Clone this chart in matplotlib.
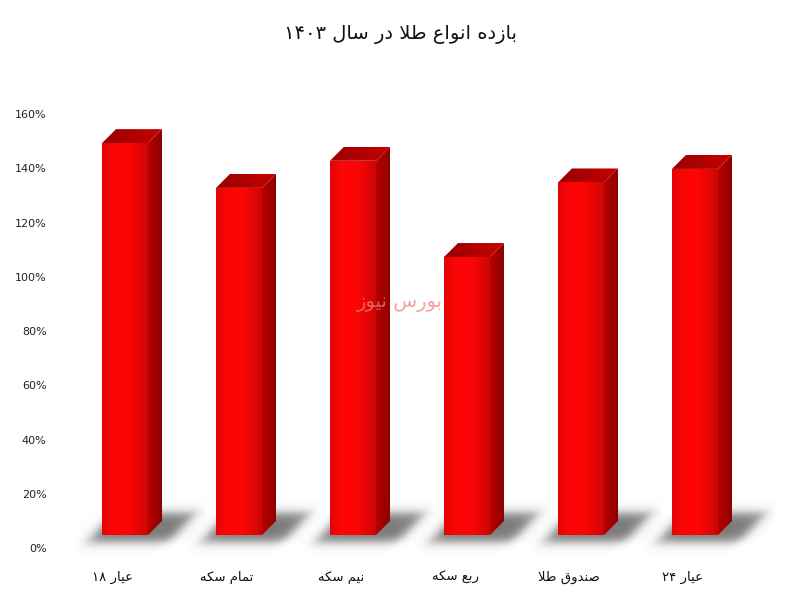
import numpy as np
import matplotlib
matplotlib.use("Agg")
import matplotlib.pyplot as plt
from matplotlib.patches import Polygon, Rectangle
from matplotlib.transforms import ScaledTranslation

# ---------------- data ----------------
title_text = "بازده انواع طلا در سال ۱۴۰۳"
categories = ["عیار ۱۸", "تمام سکه", "نیم سکه", "ربع سکه", "صندوق طلا", "عیار ۲۴"]
values = [144.5, 128, 138, 102.5, 130, 135]
yticks = [0, 20, 40, 60, 80, 100, 120, 140, 160]
ytick_labels = [f"{t}%" for t in yticks]
watermark = "بورس نیوز"

# ---------------- minimal Persian shaping ----------------
FORMS = {
    'ا': ('\uFE8D', '\uFE8E', None, None),
    'ب': ('\uFE8F', '\uFE90', '\uFE91', '\uFE92'),
    'ت': ('\uFE95', '\uFE96', '\uFE97', '\uFE98'),
    'د': ('\uFEA9', '\uFEAA', None, None),
    'ر': ('\uFEAD', '\uFEAE', None, None),
    'ز': ('\uFEAF', '\uFEB0', None, None),
    'س': ('\uFEB1', '\uFEB2', '\uFEB3', '\uFEB4'),
    'ص': ('\uFEB9', '\uFEBA', '\uFEBB', '\uFEBC'),
    'ط': ('\uFEC1', '\uFEC2', '\uFEC3', '\uFEC4'),
    'ع': ('\uFEC9', '\uFECA', '\uFECB', '\uFECC'),
    'ق': ('\uFED5', '\uFED6', '\uFED7', '\uFED8'),
    'ک': ('\uFB8E', '\uFB8F', '\uFB90', '\uFB91'),
    'ل': ('\uFEDD', '\uFEDE', '\uFEDF', '\uFEE0'),
    'م': ('\uFEE1', '\uFEE2', '\uFEE3', '\uFEE4'),
    'ن': ('\uFEE5', '\uFEE6', '\uFEE7', '\uFEE8'),
    'ه': ('\uFEE9', '\uFEEA', '\uFEEB', '\uFEEC'),
    'و': ('\uFEED', '\uFEEE', None, None),
    'ی': ('\uFBFC', '\uFBFD', '\uFEF3', '\uFEF4'),
}


def shape(text):
    out = []
    n = len(text)
    i = 0
    while i < n:
        c = text[i]
        if c not in FORMS:
            out.append(c)
            i += 1
            continue
        prev = text[i - 1] if i > 0 else ''
        cp = prev in FORMS and FORMS[prev][2] is not None
        if c == 'ل' and i + 1 < n and text[i + 1] == 'ا':
            out.append('\uFEFC' if cp else '\uFEFB')
            i += 2
            continue
        nxt = text[i + 1] if i + 1 < n else ''
        cn = FORMS[c][2] is not None and nxt in FORMS
        iso, fin, ini, med = FORMS[c]
        if cp and cn:
            out.append(med)
        elif cp:
            out.append(fin)
        elif cn:
            out.append(ini)
        else:
            out.append(iso)
        i += 1
    s = ''.join(out)
    rev = s[::-1]
    res, run = [], []
    for ch in rev:
        if ch.isdigit():
            run.append(ch)
        else:
            if run:
                res.extend(run[::-1]); run = []
            res.append(ch)
    if run:
        res.extend(run[::-1])
    return ''.join(res)


plt.rcParams['font.family'] = ['DejaVu Sans']

# ---------------- figure ----------------
W, H = 800, 600
fig = plt.figure(figsize=(8, 6), dpi=100)
fig.patch.set_facecolor('white')
ax = fig.add_axes([55 / W, 65 / H, 710 / W, 461 / H])
xlim = (-0.614, 5.614)
ylim = (0, 170)
ax.set_xlim(*xlim)
ax.set_ylim(*ylim)
ax.set_aspect('auto')

px_x = 710 / (xlim[1] - xlim[0])
px_y = 461 / (ylim[1] - ylim[0])
dx = 14 / px_x
dy = 14 / px_y
bw = 46 / px_x

gx = np.linspace(0, 1, 64)
front_r = 0.80 + 0.20 * np.clip(np.sin(np.pi * (0.15 + 0.85 * gx)), 0, 1)
front = np.zeros((2, 64, 3))
front[..., 0] = front_r
front[..., 1] = 0.02
front[..., 2] = 0.02

side = np.zeros((2, 64, 3))
side[..., 0] = np.linspace(0.72, 0.55, 64)

top = np.zeros((2, 64, 3))
top[..., 0] = np.linspace(0.60, 0.78, 64)


def box(t, a, b, s):
    return 0.5 * (np.tanh((t - a) / s) - np.tanh((t - b) / s))


for i, v in enumerate(values):
    x0 = i - bw / 2
    x1 = i + bw / 2

    # blurred floor shadow
    ex = (x0 - 30 / px_x, x1 + dx + 45 / px_x)
    ey = (-22 / px_y, dy + 36 / px_y)
    nx, ny = 180, 110
    X = np.linspace(ex[0], ex[1], nx)
    Y = np.linspace(ey[0], ey[1], ny)
    XX, YY = np.meshgrid(X, Y)
    Xp = (XX - x0) * px_x
    Yp = YY * px_y
    U = Xp - 0.9 * Yp
    A = box(U, -8, 74, 8) * box(Yp, -7, 22, 6) * 0.7
    img = np.zeros((ny, nx, 4))
    img[..., :3] = 0.25
    img[..., 3] = np.clip(A, 0, 1)
    shim = ax.imshow(img, extent=[ex[0], ex[1], ey[0], ey[1]], origin='lower',
                     aspect='auto', zorder=1, interpolation='bilinear')
    shim.set_clip_on(False)

    rect = Rectangle((x0, 0), bw, v, facecolor='none', edgecolor='none')
    ax.add_patch(rect)
    im = ax.imshow(front, extent=[x0, x1, 0, v], aspect='auto', zorder=3,
                   interpolation='bilinear')
    im.set_clip_path(rect)

    sp = Polygon([(x1, 0), (x1 + dx, dy), (x1 + dx, v + dy), (x1, v)],
                 closed=True, facecolor='none', edgecolor='none')
    ax.add_patch(sp)
    im = ax.imshow(side, extent=[x1, x1 + dx, 0, v + dy], aspect='auto',
                   zorder=3, interpolation='bilinear')
    im.set_clip_path(sp)

    tp = Polygon([(x0, v), (x1, v), (x1 + dx, v + dy), (x0 + dx, v + dy)],
                 closed=True, facecolor='none', edgecolor='none')
    ax.add_patch(tp)
    im = ax.imshow(top, extent=[x0, x1 + dx, v, v + dy], aspect='auto',
                   zorder=3, interpolation='bilinear')
    im.set_clip_path(tp)

ax.set_xlim(*xlim)
ax.set_ylim(*ylim)

for sp_ in ax.spines.values():
    sp_.set_visible(False)

ax.set_yticks(yticks)
ax.set_yticklabels(ytick_labels, fontsize=8, color='#222222')
ax.tick_params(axis='y', length=0, pad=6)
off_y = ScaledTranslation(0, -13 / 100, fig.dpi_scale_trans)
for lab in ax.get_yticklabels():
    lab.set_transform(lab.get_transform() + off_y)

ax.set_xticks(range(len(categories)))
ax.set_xticklabels([shape(c) for c in categories], fontsize=9.5, color='#111111')
ax.tick_params(axis='x', length=0, pad=26)
off_x = ScaledTranslation(-12 / 100, 0, fig.dpi_scale_trans)
for lab in ax.get_xticklabels():
    lab.set_transform(lab.get_transform() + off_x)

fig.text(0.5, 1 - 35 / H, shape(title_text), ha='center', va='center',
         fontsize=14, color='#111111')

fig.text(400 / W, 1 - 303 / H, shape(watermark), ha='center', va='center',
         fontsize=14, color='#f08080', alpha=0.75, zorder=10)

fig.savefig('out.png', dpi=100, facecolor='white')
